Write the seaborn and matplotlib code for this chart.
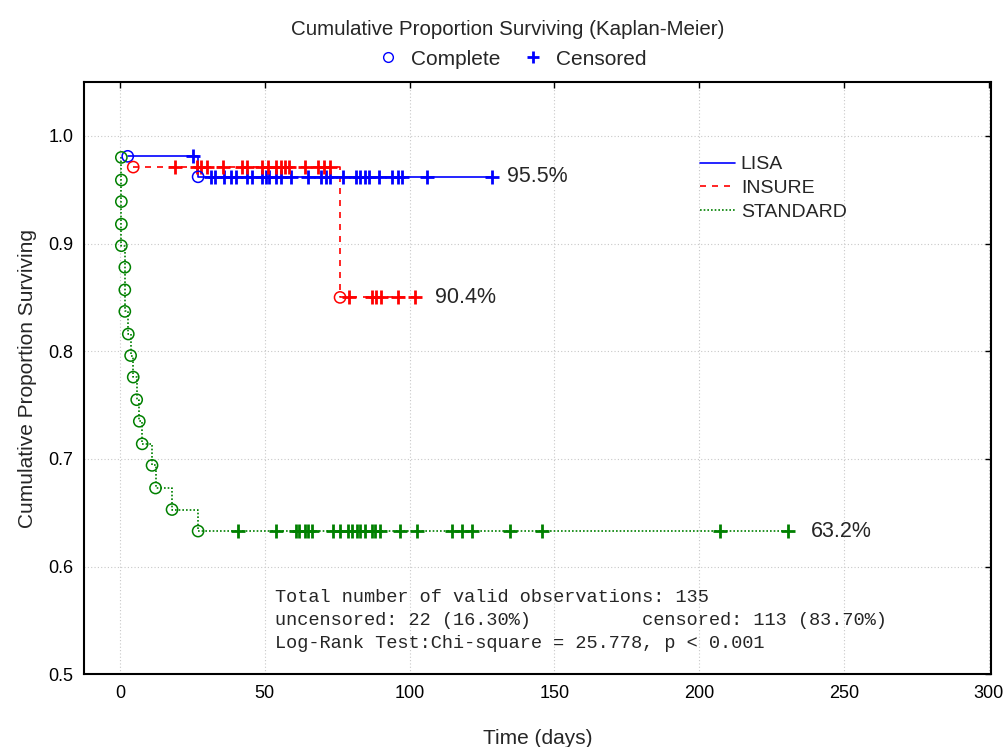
import matplotlib
matplotlib.use("Agg")
import matplotlib.pyplot as plt
from matplotlib.lines import Line2D
import numpy as np
import pandas as pd
import seaborn as sns

# event (complete) times and survival after each event
lisa_t = [2.7, 27.0]
lisa_s = [0.981, 0.962]
lisa_cens = [25.3, 31.5, 33, 36, 38.5, 40, 44, 45.5, 49, 50.5, 51.5, 54, 55.5, 59,
             65, 69.5, 71, 72.5, 77, 81.5, 83, 84.5, 86, 89.5, 94, 96, 97.5, 106, 128.5]

insure_t = [4.6, 76.0]
insure_s = [0.971, 0.850]
insure_cens = [19, 26.5, 28, 30, 35.5, 42, 44, 49, 51, 54, 55.5, 57, 58.5, 64,
               68.5, 70.5, 72.5, 79, 87, 88.5, 90, 96, 102]

standard_t = [0.5, 0.5, 0.5, 0.5, 0.5, 1.7, 1.7, 1.7, 2.9, 3.7, 4.6, 5.8, 6.7, 7.7,
              11.1, 12.3, 18.0, 27.0]
standard_s = [0.980, 0.959, 0.939, 0.918, 0.898, 0.878, 0.857, 0.837, 0.816, 0.796,
              0.776, 0.755, 0.735, 0.714, 0.694, 0.673, 0.653, 0.633]
standard_cens = [40.7, 53.8, 60.8, 62, 63.9, 65, 66.3, 73.5, 75.9, 78.7, 80, 81.7, 83,
                 84.6, 86.9, 88, 89.7, 96.7, 102.4, 114.5, 118, 121.4, 134.6, 145.6,
                 207.1, 230.7]

groups = ["LISA", "INSURE", "STANDARD"]
end_labels = ["95.5%", "90.4%", "63.2%"]
label_x = [133.6, 108.7, 238.5]

info_lines = [
    "Total number of valid observations: 135",
    "uncensored: 22 (16.30%)          censored: 113 (83.70%)",
    "Log-Rank Test:Chi-square = 25.778, p < 0.001",
]

colors = {"LISA": "#0000ff", "INSURE": "#ff0000", "STANDARD": "#008000"}
styles = {"LISA": "-", "INSURE": (0, (3.6, 3.6)), "STANDARD": (0, (1, 1.2))}
data = {
    "LISA": (lisa_t, lisa_s, lisa_cens),
    "INSURE": (insure_t, insure_s, insure_cens),
    "STANDARD": (standard_t, standard_s, standard_cens),
}

sns.set_theme(style="white")
plt.rcParams["font.family"] = ["Liberation Sans", "DejaVu Sans"]

fig = plt.figure(figsize=(10.08, 7.47), dpi=100)
ax = fig.add_axes([0.0836, 0.0973, 0.8992, 0.7929])

for g in groups:
    et, es, ct = data[g]
    et = np.array(et)
    es = np.array(es)
    # survival level at each censoring time = last event survival before it
    cs = [es[et <= c][-1] for c in ct]
    ev = pd.DataFrame({"t": et, "s": es, "kind": 0})
    ce = pd.DataFrame({"t": ct, "s": cs, "kind": 1})
    df = pd.concat([ev, ce]).sort_values(["t", "kind"], kind="stable")
    sns.lineplot(data=df, x="t", y="s", estimator=None, sort=False, ax=ax,
                 drawstyle="steps-post", color=colors[g], linestyle=styles[g],
                 lw=1.2, label=g, legend=False)
    sns.scatterplot(x=ct, y=cs, marker="+", s=95, color=colors[g], linewidth=2,
                    ax=ax, zorder=4, legend=False)
    sns.scatterplot(x=et, y=es, marker="o", s=65, facecolors="none",
                    edgecolor=colors[g], linewidth=1.1, ax=ax, zorder=5, legend=False)

for g, lab, lx in zip(groups, end_labels, label_x):
    et, es, ct = data[g]
    ax.text(lx, es[-1], lab, fontsize=15.5, va="center", ha="left")

for i, line in enumerate(info_lines):
    ax.text(53.5, 0.571 - i * 0.021, line, family="Liberation Mono", fontsize=13.4,
            va="center", ha="left")

ax.set_xlim(-12.3, 300.6)
ax.set_ylim(0.5, 1.05)
ax.set_xticks([0, 50, 100, 150, 200, 250, 300])
ax.set_yticks([0.5, 0.6, 0.7, 0.8, 0.9, 1.0])
ax.set_yticklabels(["0.5", "0.6", "0.7", "0.8", "0.9", "1.0"])
ax.grid(True, color="#c8c8c8", linestyle=(0, (1, 2)), linewidth=0.8)
ax.tick_params(direction="in", length=4, width=1, top=True, right=True,
               labelsize=13, pad=8, colors="black")
for sp in ax.spines.values():
    sp.set_color("black")
    sp.set_linewidth(1.5)

ax.set_xlabel("Time (days)", fontsize=15, labelpad=19)
ax.set_ylabel("Cumulative Proportion Surviving", fontsize=15, labelpad=8)

handles = [Line2D([], [], color=colors[g], linestyle=styles[g], lw=1.2) for g in groups]
ax.legend(handles, groups, loc="upper left", bbox_to_anchor=(0.66, 0.905),
          frameon=False, fontsize=14, handlelength=1.8, handletextpad=0.3,
          labelspacing=0.31)

top_handles = [
    Line2D([], [], marker="o", color="#0000ff", markerfacecolor="none",
           markersize=7, linestyle="none", markeredgewidth=1),
    Line2D([], [], marker="+", color="#0000ff", markersize=8,
           linestyle="none", markeredgewidth=2),
]
fig.legend(top_handles, ["Complete", "Censored"], loc="center",
           bbox_to_anchor=(0.503, 0.921), ncol=2, frameon=False, fontsize=15,
           handletextpad=0.1, columnspacing=0.55)

fig.text(0.504, 0.961, "Cumulative Proportion Surviving (Kaplan-Meier)",
         ha="center", va="center", fontsize=14.8)

fig.savefig("out.png", dpi=100)
